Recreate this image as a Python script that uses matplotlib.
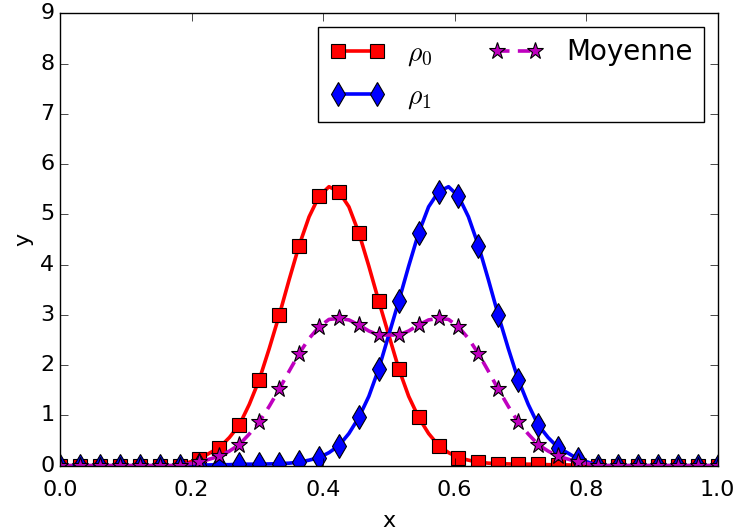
import numpy as np
import matplotlib
matplotlib.use("Agg")
import matplotlib.pyplot as plt

# Values, on a grid of x = j/66 (markers on every 2nd point)
x = np.linspace(0.0, 1.0, 67)

rho0 = [0, 0, 0, 0, 0, 0, 0, 0, 0, 0, 0, 0, 0,
        0.07, 0.13, 0.25, 0.36, 0.56, 0.81, 1.22, 1.71, 2.33, 2.99, 3.70, 4.38,
        4.95, 5.36, 5.55, 5.45, 5.15, 4.63, 3.97, 3.27, 2.60, 1.93, 1.38, 0.96,
        0.64, 0.40, 0.26, 0.16, 0.11, 0.07, 0.05, 0.04, 0.035, 0.03, 0.03, 0.03,
        0.02, 0.02, 0.015, 0.01, 0.005,
        0, 0, 0, 0, 0, 0, 0, 0, 0, 0, 0, 0, 0]

rho1 = [0, 0, 0, 0, 0, 0, 0, 0, 0, 0, 0, 0, 0,
        0.005, 0.01, 0.015, 0.02, 0.02, 0.03, 0.03, 0.03, 0.035, 0.04, 0.05, 0.07,
        0.11, 0.16, 0.26, 0.40, 0.64, 0.96, 1.38, 1.93, 2.60, 3.27, 3.97, 4.63,
        5.15, 5.45, 5.55, 5.36, 4.95, 4.38, 3.70, 2.99, 2.33, 1.71, 1.22, 0.81,
        0.56, 0.36, 0.25, 0.13, 0.07,
        0, 0, 0, 0, 0, 0, 0, 0, 0, 0, 0, 0, 0]

moyenne = [0, 0, 0, 0, 0, 0, 0, 0, 0, 0, 0, 0, 0,
           0.04, 0.07, 0.13, 0.19, 0.29, 0.42, 0.63, 0.87, 1.18, 1.52, 1.88, 2.23,
           2.53, 2.76, 2.91, 2.93, 2.90, 2.80, 2.68, 2.60, 2.60, 2.60, 2.68, 2.80,
           2.90, 2.93, 2.91, 2.76, 2.53, 2.23, 1.88, 1.52, 1.18, 0.87, 0.63, 0.42,
           0.29, 0.19, 0.13, 0.07, 0.04,
           0, 0, 0, 0, 0, 0, 0, 0, 0, 0, 0, 0, 0]

plt.style.use("classic")
plt.rcParams["lines.scale_dashes"] = False

fig = plt.figure(figsize=(7.4, 5.31), dpi=100)
ax = fig.add_axes([0.0811, 0.1230, 0.8885, 0.8520])

ax.plot(x, rho0, "r-", lw=2.6, marker="s", markersize=10, markevery=2,
        markeredgecolor="k", markeredgewidth=0.8, label=r"$\rho_0$")
ax.plot(x, rho1, "b-", lw=2.6, marker="d", markersize=12, markevery=2,
        markeredgecolor="k", markeredgewidth=0.8, label=r"$\rho_1$")
ax.plot(x, moyenne, color="m", linestyle=(0, (9, 6)), lw=2.6, marker="*",
        markersize=12.5, markevery=2, markeredgecolor="k", markeredgewidth=0.8,
        label="Moyenne")

ax.set_xlim(0, 1)
ax.set_ylim(0, 9)
ax.set_xticks([0.0, 0.2, 0.4, 0.6, 0.8, 1.0])
ax.set_yticks(range(10))
ax.tick_params(labelsize=16, length=5.5)
ax.tick_params(axis="x", pad=10)
ax.set_xlabel("x", fontsize=16, labelpad=8)
ax.set_ylabel("y", fontsize=16)

ax.legend(loc="upper right", ncol=2, fontsize=20)

fig.savefig("out.png", dpi=100)
